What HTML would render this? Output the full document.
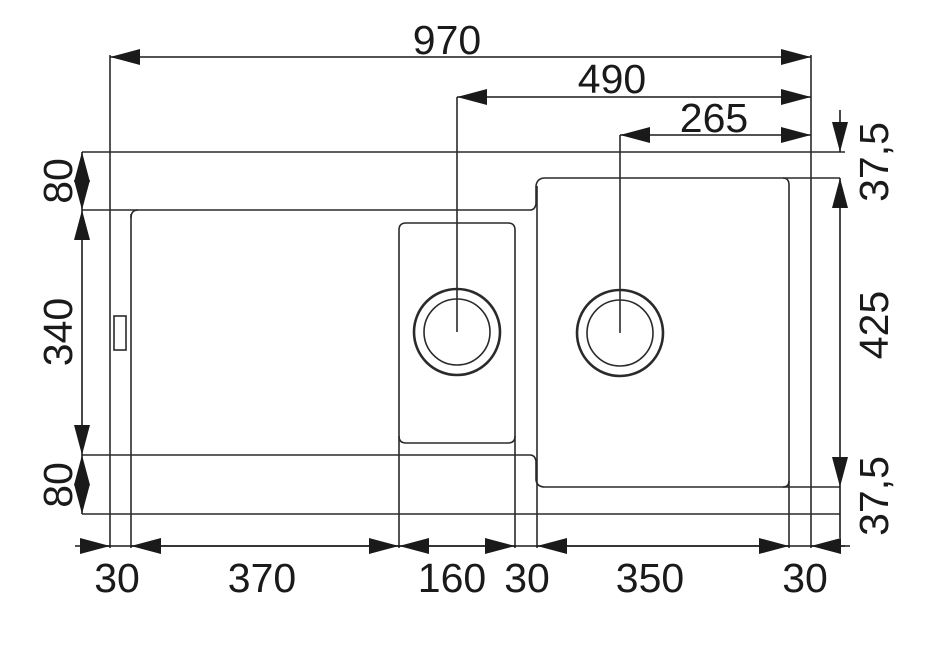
<!DOCTYPE html>
<html><head><style>
html,body{margin:0;padding:0;background:#fff;}
svg{display:block;}
text{font-family:"Liberation Sans",Arial,sans-serif;font-size:41px;fill:#1a1a1a;}
</style></head><body>
<svg width="925" height="654" viewBox="0 0 925 654" xmlns="http://www.w3.org/2000/svg">
<defs>
<marker id="a" viewBox="0 0 30 16" refX="30" refY="8" markerWidth="30" markerHeight="16" markerUnits="userSpaceOnUse" orient="auto-start-reverse">
<path d="M0,0 L30,8 L0,16 Z" fill="#1a1a1a"/>
</marker>
</defs>
<g stroke="#2a2a2a" stroke-width="1.6" fill="none">
<line x1="82" y1="152" x2="845" y2="152"/>
<line x1="82" y1="514" x2="840" y2="514"/>
<line x1="110" y1="55" x2="110" y2="548"/>
<line x1="811" y1="55" x2="811" y2="548"/>
<path d="M82,210 H530 Q535,210 536,204 V186 Q537,178 545,178 H840"/>
<path d="M82,455 H530 Q535,455 536,461 V480 Q537,487 545,487 H840"/>
<line x1="131" y1="214" x2="131" y2="548"/>
<path d="M131,218 Q131,210 138,210"/>
<line x1="537" y1="186" x2="537" y2="548"/>
<path d="M783,178 Q789,178 789,185 V548"/>
<path d="M789,481 Q789,487 783,487"/>
<path d="M399,548 V230 Q399,223 406,223 H508 Q515,223 515,230 V548"/>
<path d="M399,436 Q399,443 406,443 H508 Q515,443 515,436"/>
<rect x="114" y="316" width="12" height="34"/>
<circle cx="457" cy="332" r="43" stroke-width="2.6"/>
<circle cx="457" cy="332" r="33"/>
<circle cx="620" cy="333" r="43" stroke-width="2.6"/>
<circle cx="620" cy="333" r="33"/>
<line x1="457" y1="97" x2="457" y2="332"/>
<line x1="620" y1="135" x2="620" y2="333"/>
</g>
<g stroke="#1a1a1a" stroke-width="1.6" fill="none">
<line x1="110" y1="57" x2="811" y2="57" marker-start="url(#a)" marker-end="url(#a)"/>
<line x1="457" y1="97" x2="811" y2="97" marker-start="url(#a)" marker-end="url(#a)"/>
<line x1="620" y1="135" x2="811" y2="135" marker-start="url(#a)" marker-end="url(#a)"/>
<line x1="82" y1="152" x2="82" y2="210" marker-start="url(#a)" marker-end="url(#a)"/>
<line x1="82" y1="210" x2="82" y2="455" marker-start="url(#a)" marker-end="url(#a)"/>
<line x1="82" y1="455" x2="82" y2="514" marker-start="url(#a)" marker-end="url(#a)"/>
<line x1="840" y1="110" x2="840" y2="152" marker-end="url(#a)"/>
<line x1="840" y1="178" x2="840" y2="487" marker-start="url(#a)" marker-end="url(#a)"/>
<line x1="840" y1="487" x2="840" y2="538"/>
<line x1="75" y1="546" x2="850" y2="546"/>
<line x1="80" y1="546" x2="110" y2="546" marker-end="url(#a)"/>
<line x1="131" y1="546" x2="399" y2="546" marker-start="url(#a)" marker-end="url(#a)"/>
<line x1="399" y1="546" x2="515" y2="546" marker-start="url(#a)" marker-end="url(#a)"/>
<line x1="537" y1="546" x2="789" y2="546" marker-start="url(#a)" marker-end="url(#a)"/>
<line x1="811" y1="546" x2="845" y2="546" marker-start="url(#a)"/>
</g>
<g text-anchor="middle">
<text x="447" y="54">970</text>
<text x="612" y="93">490</text>
<text x="714" y="132">265</text>
<text x="117" y="592">30</text>
<text x="262" y="592">370</text>
<text x="452" y="592">160</text>
<text x="527" y="592">30</text>
<text x="650" y="592">350</text>
<text x="805" y="592">30</text>
<text transform="translate(72,181) rotate(-90)">80</text>
<text transform="translate(72,332) rotate(-90)">340</text>
<text transform="translate(72,485) rotate(-90)">80</text>
<text transform="translate(888,162) rotate(-90)">37,5</text>
<text transform="translate(888,325) rotate(-90)">425</text>
<text transform="translate(888,496) rotate(-90)">37,5</text>
</g>
</svg>
</body></html>
